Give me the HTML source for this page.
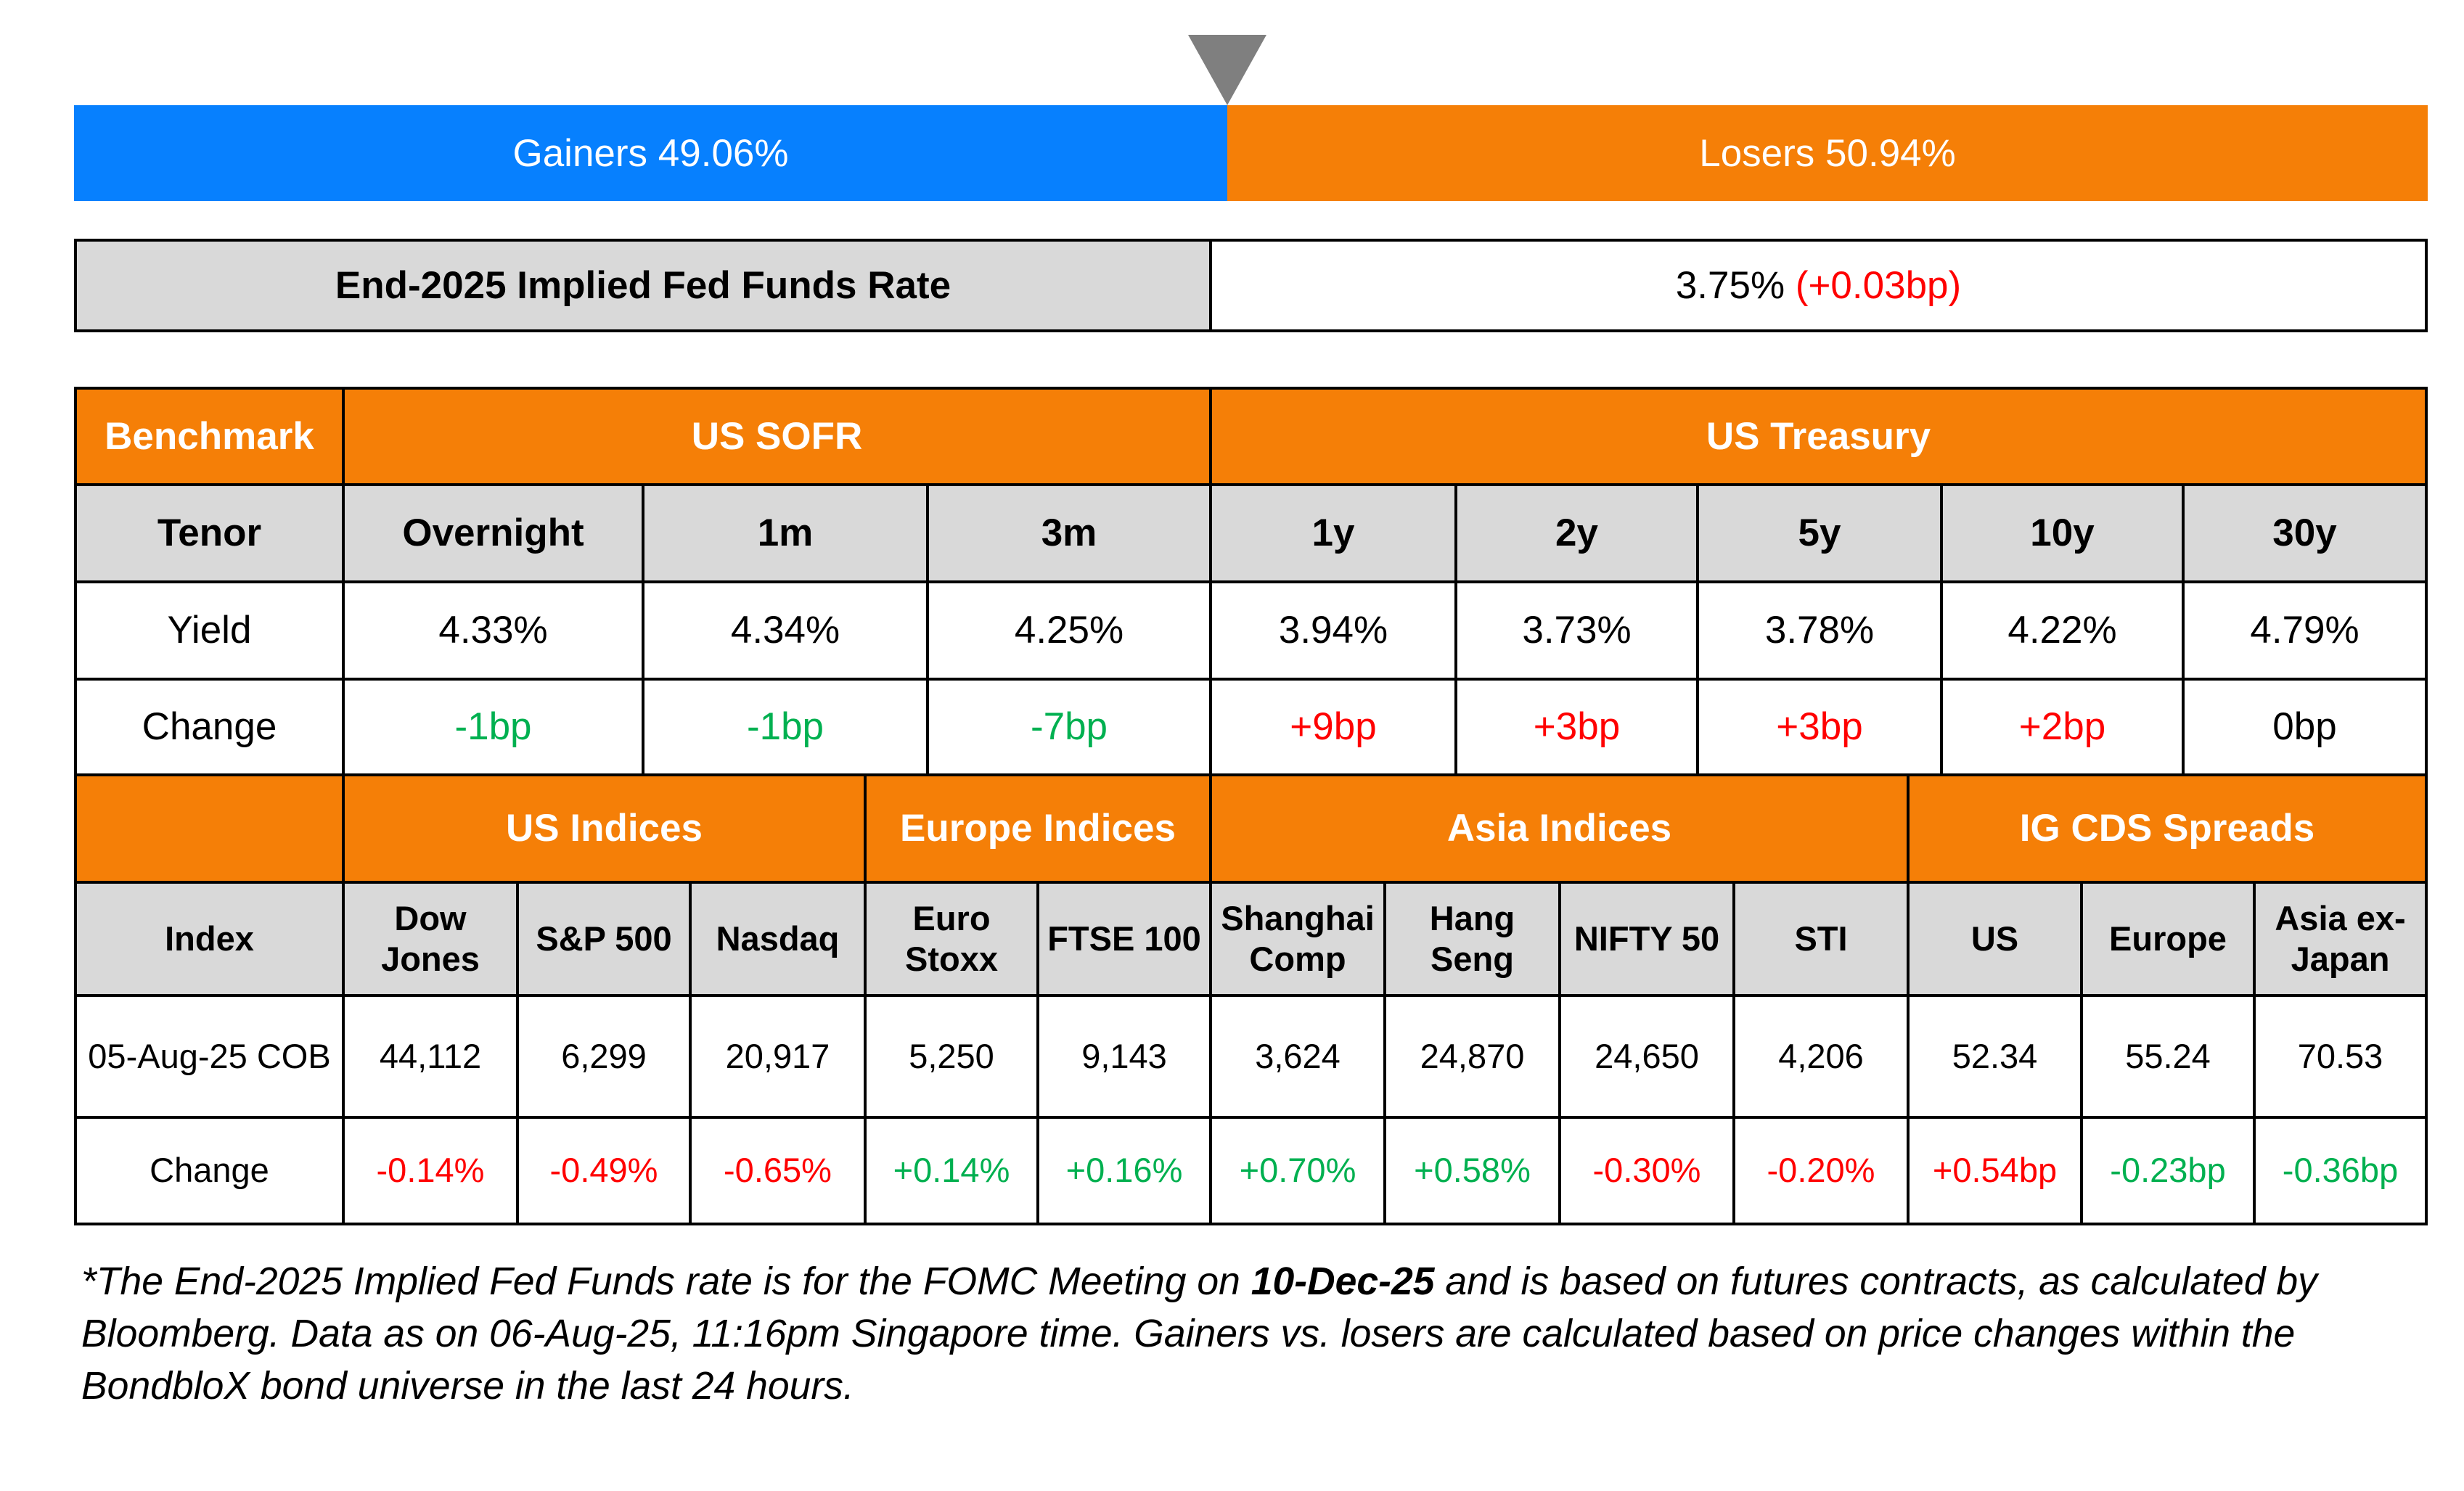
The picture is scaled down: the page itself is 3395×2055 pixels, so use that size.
<!DOCTYPE html>
<html><head><meta charset="utf-8"><style>
body{margin:0;width:3395px;height:2055px;background:#fff;position:relative;overflow:hidden;font-family:"Liberation Sans",sans-serif}
.c{position:absolute;box-sizing:border-box;border:4px solid #000;display:flex;align-items:center;justify-content:center;text-align:center;line-height:1.2}
.o{background:#F57F07;color:#fff;font-weight:bold;font-size:53px}
.g{background:#D9D9D9;font-weight:bold;font-size:53px}
.w{background:#fff;font-size:53px}
.s{font-size:47px}
.r{color:#FF0000}.gr{color:#00B050}
.fn{position:absolute;left:112px;font-style:italic;font-size:53.5px;white-space:nowrap;color:#000}
</style></head><body>
<div style="position:absolute;left:1637px;top:48px;width:0;height:0;border-left:54px solid transparent;border-right:54px solid transparent;border-top:97px solid #7F7F7F"></div>
<div style="position:absolute;left:102px;top:145px;width:1589px;height:132px;background:#0780FE;color:#fff;font-size:53px;display:flex;align-items:center;justify-content:center">Gainers 49.06%</div>
<div style="position:absolute;left:1691px;top:145px;width:1654px;height:132px;background:#F57F07;color:#fff;font-size:53px;display:flex;align-items:center;justify-content:center">Losers 50.94%</div>
<div class="c g" style="left:102px;top:329px;width:1568px;height:129px">End-2025 Implied Fed Funds Rate</div>
<div class="c w" style="left:1666px;top:329px;width:1679px;height:129px">3.75%&nbsp;<span class="r">(+0.03bp)</span></div>

<div class="c o" style="left:102px;top:533px;width:373px;height:137px">Benchmark</div>
<div class="c o" style="left:471px;top:533px;width:1199px;height:137px">US SOFR</div>
<div class="c o" style="left:1666px;top:533px;width:1679px;height:137px">US Treasury</div>

<div class="c g" style="left:102px;top:666px;width:373px;height:138px">Tenor</div>
<div class="c g" style="left:471px;top:666px;width:417px;height:138px">Overnight</div>
<div class="c g" style="left:884px;top:666px;width:396px;height:138px">1m</div>
<div class="c g" style="left:1276px;top:666px;width:394px;height:138px">3m</div>
<div class="c g" style="left:1666px;top:666px;width:342px;height:138px">1y</div>
<div class="c g" style="left:2004px;top:666px;width:337px;height:138px">2y</div>
<div class="c g" style="left:2337px;top:666px;width:340px;height:138px">5y</div>
<div class="c g" style="left:2673px;top:666px;width:337px;height:138px">10y</div>
<div class="c g" style="left:3006px;top:666px;width:339px;height:138px">30y</div>

<div class="c w" style="left:102px;top:800px;width:373px;height:138px">Yield</div>
<div class="c w" style="left:471px;top:800px;width:417px;height:138px">4.33%</div>
<div class="c w" style="left:884px;top:800px;width:396px;height:138px">4.34%</div>
<div class="c w" style="left:1276px;top:800px;width:394px;height:138px">4.25%</div>
<div class="c w" style="left:1666px;top:800px;width:342px;height:138px">3.94%</div>
<div class="c w" style="left:2004px;top:800px;width:337px;height:138px">3.73%</div>
<div class="c w" style="left:2337px;top:800px;width:340px;height:138px">3.78%</div>
<div class="c w" style="left:2673px;top:800px;width:337px;height:138px">4.22%</div>
<div class="c w" style="left:3006px;top:800px;width:339px;height:138px">4.79%</div>

<div class="c w" style="left:102px;top:934px;width:373px;height:136px">Change</div>
<div class="c w gr" style="left:471px;top:934px;width:417px;height:136px">-1bp</div>
<div class="c w gr" style="left:884px;top:934px;width:396px;height:136px">-1bp</div>
<div class="c w gr" style="left:1276px;top:934px;width:394px;height:136px">-7bp</div>
<div class="c w r" style="left:1666px;top:934px;width:342px;height:136px">+9bp</div>
<div class="c w r" style="left:2004px;top:934px;width:337px;height:136px">+3bp</div>
<div class="c w r" style="left:2337px;top:934px;width:340px;height:136px">+3bp</div>
<div class="c w r" style="left:2673px;top:934px;width:337px;height:136px">+2bp</div>
<div class="c w" style="left:3006px;top:934px;width:339px;height:136px">0bp</div>

<div class="c o" style="left:102px;top:1066px;width:373px;height:152px"></div>
<div class="c o" style="left:471px;top:1066px;width:723px;height:152px">US Indices</div>
<div class="c o" style="left:1190px;top:1066px;width:480px;height:152px">Europe Indices</div>
<div class="c o" style="left:1666px;top:1066px;width:965px;height:152px">Asia Indices</div>
<div class="c o" style="left:2627px;top:1066px;width:718px;height:152px">IG CDS Spreads</div>

<div class="c g s" style="left:102px;top:1214px;width:373px;height:160px">Index</div>
<div class="c g s" style="left:471px;top:1214px;width:244px;height:160px">Dow<br>Jones</div>
<div class="c g s" style="left:711px;top:1214px;width:242px;height:160px">S&amp;P 500</div>
<div class="c g s" style="left:949px;top:1214px;width:245px;height:160px">Nasdaq</div>
<div class="c g s" style="left:1190px;top:1214px;width:242px;height:160px">Euro<br>Stoxx</div>
<div class="c g s" style="left:1428px;top:1214px;width:242px;height:160px">FTSE 100</div>
<div class="c g s" style="left:1666px;top:1214px;width:244px;height:160px">Shanghai<br>Comp</div>
<div class="c g s" style="left:1906px;top:1214px;width:245px;height:160px">Hang<br>Seng</div>
<div class="c g s" style="left:2147px;top:1214px;width:244px;height:160px">NIFTY 50</div>
<div class="c g s" style="left:2387px;top:1214px;width:244px;height:160px">STI</div>
<div class="c g s" style="left:2627px;top:1214px;width:243px;height:160px">US</div>
<div class="c g s" style="left:2866px;top:1214px;width:242px;height:160px">Europe</div>
<div class="c g s" style="left:3104px;top:1214px;width:241px;height:160px">Asia ex-<br>Japan</div>

<div class="c w s" style="left:102px;top:1370px;width:373px;height:172px">05-Aug-25 COB</div>
<div class="c w s" style="left:471px;top:1370px;width:244px;height:172px">44,112</div>
<div class="c w s" style="left:711px;top:1370px;width:242px;height:172px">6,299</div>
<div class="c w s" style="left:949px;top:1370px;width:245px;height:172px">20,917</div>
<div class="c w s" style="left:1190px;top:1370px;width:242px;height:172px">5,250</div>
<div class="c w s" style="left:1428px;top:1370px;width:242px;height:172px">9,143</div>
<div class="c w s" style="left:1666px;top:1370px;width:244px;height:172px">3,624</div>
<div class="c w s" style="left:1906px;top:1370px;width:245px;height:172px">24,870</div>
<div class="c w s" style="left:2147px;top:1370px;width:244px;height:172px">24,650</div>
<div class="c w s" style="left:2387px;top:1370px;width:244px;height:172px">4,206</div>
<div class="c w s" style="left:2627px;top:1370px;width:243px;height:172px">52.34</div>
<div class="c w s" style="left:2866px;top:1370px;width:242px;height:172px">55.24</div>
<div class="c w s" style="left:3104px;top:1370px;width:241px;height:172px">70.53</div>

<div class="c w s" style="left:102px;top:1538px;width:373px;height:151px">Change</div>
<div class="c w s r" style="left:471px;top:1538px;width:244px;height:151px">-0.14%</div>
<div class="c w s r" style="left:711px;top:1538px;width:242px;height:151px">-0.49%</div>
<div class="c w s r" style="left:949px;top:1538px;width:245px;height:151px">-0.65%</div>
<div class="c w s gr" style="left:1190px;top:1538px;width:242px;height:151px">+0.14%</div>
<div class="c w s gr" style="left:1428px;top:1538px;width:242px;height:151px">+0.16%</div>
<div class="c w s gr" style="left:1666px;top:1538px;width:244px;height:151px">+0.70%</div>
<div class="c w s gr" style="left:1906px;top:1538px;width:245px;height:151px">+0.58%</div>
<div class="c w s r" style="left:2147px;top:1538px;width:244px;height:151px">-0.30%</div>
<div class="c w s r" style="left:2387px;top:1538px;width:244px;height:151px">-0.20%</div>
<div class="c w s r" style="left:2627px;top:1538px;width:243px;height:151px">+0.54bp</div>
<div class="c w s gr" style="left:2866px;top:1538px;width:242px;height:151px">-0.23bp</div>
<div class="c w s gr" style="left:3104px;top:1538px;width:241px;height:151px">-0.36bp</div>

<div class="fn" style="top:1736px">*The End-2025 Implied Fed Funds rate is for the FOMC Meeting on <b>10-Dec-25</b> and is based on futures contracts, as calculated by</div>
<div class="fn" style="top:1808px">Bloomberg. Data as on 06-Aug-25, 11:16pm Singapore time. Gainers vs. losers are calculated based on price changes within the</div>
<div class="fn" style="top:1880px">BondbloX bond universe in the last 24 hours.</div>
</body></html>
